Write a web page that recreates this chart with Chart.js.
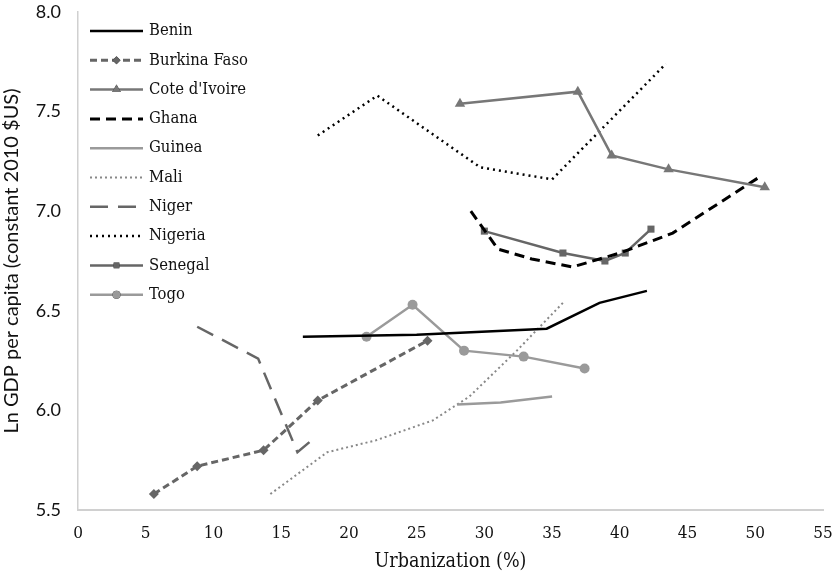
<!DOCTYPE html>
<html>
<head>
<meta charset="utf-8">
<script src="https://cdn.jsdelivr.net/npm/chart.js@4"></script>
<style>
  body { margin: 0; background: #fff; }
  #wrap { width: 839px; height: 578px; }
</style>
</head>
<body>
<div id="wrap"><canvas id="chart"></canvas></div>
<script>
// values: urbanization (%) and ln GDP per capita
const beninX = [16.6, 25.0, 34.6, 38.5, 42.0];
const beninY = [6.37, 6.38, 6.41, 6.54, 6.60];
const burkinaX = [5.6, 8.8, 13.7, 17.7, 25.8];
const burkinaY = [5.58, 5.72, 5.80, 6.05, 6.35];
const coteX = [28.2, 36.9, 39.4, 43.6, 50.7];
const coteY = [7.54, 7.60, 7.28, 7.21, 7.12];
const ghanaX = [29.0, 31.0, 33.5, 36.5, 40.0, 43.9, 50.5];
const ghanaY = [7.00, 6.81, 6.76, 6.72, 6.79, 6.89, 7.18];
const guineaX = [28.0, 31.2, 35.0];
const guineaY = [6.03, 6.04, 6.07];
const maliX = [14.2, 18.4, 22.0, 26.2, 28.9, 32.4, 35.8];
const maliY = [5.58, 5.79, 5.85, 5.95, 6.07, 6.30, 6.54];
const nigerX = [8.8, 13.3, 16.2, 17.6];
const nigerY = [6.42, 6.26, 5.79, 5.87];
const nigeriaX = [17.7, 22.1, 29.7, 35.0, 43.4];
const nigeriaY = [7.38, 7.58, 7.22, 7.16, 7.74];
const senegalX = [30.0, 35.8, 38.9, 40.4, 42.3];
const senegalY = [6.90, 6.79, 6.75, 6.79, 6.91];
const togoX = [21.3, 24.7, 28.5, 32.9, 37.4];
const togoY = [6.37, 6.53, 6.30, 6.27, 6.21];

const xTicks = [0, 5, 10, 15, 20, 25, 30, 35, 40, 45, 50, 55];
const yTicks = [5.5, 6.0, 6.5, 7.0, 7.5, 8.0];

const SERIF = '"DejaVu Serif Condensed", "Liberation Serif", serif';
const SANS = 'Lato, "Open Sans", sans-serif';
const TEXT = '#111';

const pts = (xs, ys) => xs.map((x, i) => ({ x: x, y: ys[i] }));

const series = (label, xs, ys, color, width, dash, marker, radius) => ({
  label: label,
  data: pts(xs, ys),
  showLine: true,
  borderColor: color,
  backgroundColor: color,
  borderWidth: width,
  borderDash: dash,
  pointStyle: marker || 'circle',
  pointRadius: marker ? radius : 0,
  pointBorderWidth: 0,
  pointBackgroundColor: color,
  tension: 0
});

const datasets = [
  series('Benin', beninX, beninY, '#000000', 2.5, []),
  series('Burkina Faso', burkinaX, burkinaY, '#666666', 3, [7, 4], 'rectRot', 5),
  series("Cote d'Ivoire", coteX, coteY, '#777777', 2.5, [], 'triangle', 6),
  series('Ghana', ghanaX, ghanaY, '#000000', 3, [10, 6]),
  series('Guinea', guineaX, guineaY, '#9a9a9a', 2.5, []),
  series('Mali', maliX, maliY, '#888888', 2, [2, 3]),
  series('Niger', nigerX, nigerY, '#666666', 2.5, [18, 10]),
  series('Nigeria', nigeriaX, nigeriaY, '#000000', 2.5, [2, 4]),
  series('Senegal', senegalX, senegalY, '#666666', 2.5, [], 'rect', 5),
  series('Togo', togoX, togoY, '#9a9a9a', 2.5, [], 'circle', 5)
];

// legend drawn as a vertical list with line samples, top-left of the plot
const lineLegend = {
  id: 'lineLegend',
  afterDatasetsDraw(chart) {
    const ctx = chart.ctx;
    ctx.save();
    chart.data.datasets.forEach((ds, i) => {
      const y = 31 + i * 29.3;
      ctx.beginPath();
      ctx.setLineDash(ds.borderDash);
      ctx.lineWidth = ds.borderWidth;
      ctx.strokeStyle = ds.borderColor;
      ctx.moveTo(90, y);
      ctx.lineTo(143, y);
      ctx.stroke();
      ctx.setLineDash([]);
      if (ds.pointRadius > 0) {
        Chart.helpers.drawPoint(ctx, {
          pointStyle: ds.pointStyle, rotation: 0, borderWidth: 0,
          radius: ds.pointRadius - 1
        }, 116.5, y);
        ctx.fillStyle = ds.pointBackgroundColor;
        ctx.fill();
      }
      ctx.fillStyle = TEXT;
      ctx.font = '16.5px ' + SERIF;
      ctx.textBaseline = 'middle';
      ctx.textAlign = 'left';
      ctx.fillText(ds.label, 149, y);
    });
    ctx.restore();
  }
};

new Chart(document.getElementById('chart'), {
  type: 'scatter',
  data: { datasets: datasets },
  plugins: [lineLegend],
  options: {
    responsive: true,
    maintainAspectRatio: false,
    animation: false,
    layout: { padding: { top: 12, right: 16, left: 0, bottom: 0 } },
    plugins: { legend: { display: false }, tooltip: { enabled: false } },
    scales: {
      x: {
        type: 'linear', min: 0, max: 55,
        afterBuildTicks: s => { s.ticks = xTicks.map(v => ({ value: v })); },
        afterFit: s => { s.height = 68; s.paddingLeft = 0; s.paddingRight = 0; },
        grid: { display: false, drawTicks: false },
        border: { color: '#d0d0d0', width: 2 },
        ticks: { color: TEXT, padding: 13, font: { family: SERIF, size: 17 } },
        title: { display: true, text: 'Urbanization (%)', color: TEXT, padding: { top: 0, bottom: 4 },
                 font: { family: SERIF, size: 19.5 } }
      },
      y: {
        type: 'linear', min: 5.5, max: 8.0,
        afterBuildTicks: s => { s.ticks = yTicks.map(v => ({ value: v })); },
        afterFit: s => { s.width = 78; s.paddingTop = 0; s.paddingBottom = 0; },
        grid: { display: false, drawTicks: false },
        border: { color: '#d0d0d0', width: 1.5 },
        ticks: { color: TEXT, padding: 17, font: { family: SANS, size: 18 },
                 callback: v => v.toFixed(1) },
        title: { display: true, text: 'Ln GDP per capita (constant 2010 $US)', color: TEXT,
                 padding: { top: 0, bottom: 0 }, font: { family: SANS, size: 20 } }
      }
    }
  }
});
</script>
</body>
</html>
